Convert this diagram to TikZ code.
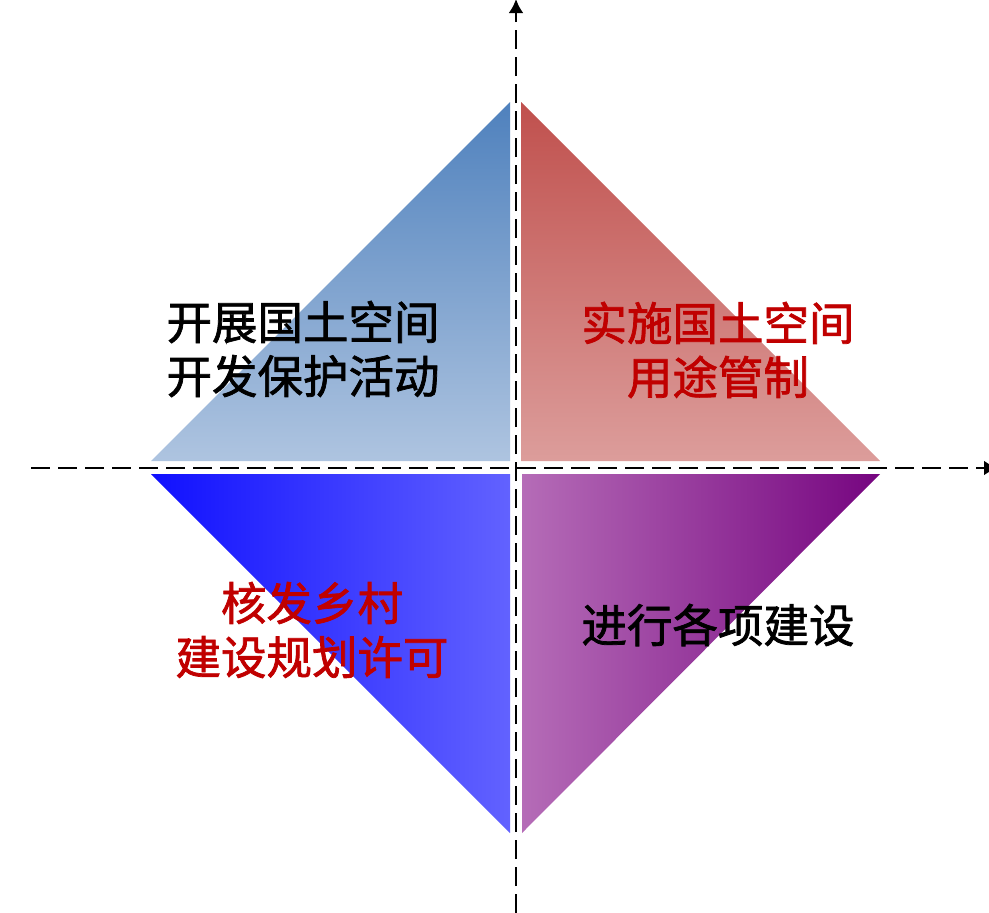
\documentclass[tikz,border=0pt]{standalone}
\usepackage{fontspec}
\newfontfamily\cjk{Noto Sans CJK SC}[FakeBold=1.6]
\usetikzlibrary{arrows.meta}
\definecolor{tlTop}{HTML}{4F81BD}
\definecolor{tlBot}{HTML}{AEC4E0}
\definecolor{trTop}{HTML}{C0504D}
\definecolor{trBot}{HTML}{DC9D9B}
\definecolor{blLeft}{HTML}{1010FF}
\definecolor{blRight}{HTML}{6262FF}
\definecolor{brLeft}{HTML}{B56CB7}
\definecolor{brRight}{HTML}{760580}
\definecolor{txtred}{HTML}{C00000}
\tikzset{
  lbl/.style={font=\cjk\fontsize{45.5}{54}\selectfont, align=center, inner sep=0pt},
  axis/.style={line width=2.6pt, black, dash pattern=on 19pt off 8pt, -{Latex[length=14pt,width=15pt]}}
}
\begin{document}
\begin{tikzpicture}[x=1pt,y=-1pt]
\useasboundingbox (0,0) rectangle (989,913);
% triangles
\shade[top color=tlTop, bottom color=tlBot] (510,102) -- (510,461) -- (151,461) -- cycle;
\shade[top color=trTop, bottom color=trBot] (521,102) -- (521,461) -- (880,461) -- cycle;
\shade[left color=blLeft, right color=blRight] (151,474) -- (510,474) -- (510,833) -- cycle;
\shade[left color=brLeft, right color=brRight] (522,474) -- (880,474) -- (522,833) -- cycle;
% axes
\coordinate (vb) at (516,913);
\coordinate (vt) at (516,-1);
\coordinate (hl) at (31,468);
\coordinate (hr) at (998,468);
\draw[axis] (vb) -- (vt);
\draw[axis] (hl) -- (hr);
% labels
\node[lbl, text=black] (tl) at (303,349) {开展国土空间\\开发保护活动};
\node[lbl, text=txtred] (tr) at (718,350) {实施国土空间\\用途管制};
\node[lbl, text=txtred] (bl) at (312,630) {核发乡村\\建设规划许可};
\node[lbl, text=black] (br) at (718,625) {进行各项建设};
\end{tikzpicture}
\end{document}
